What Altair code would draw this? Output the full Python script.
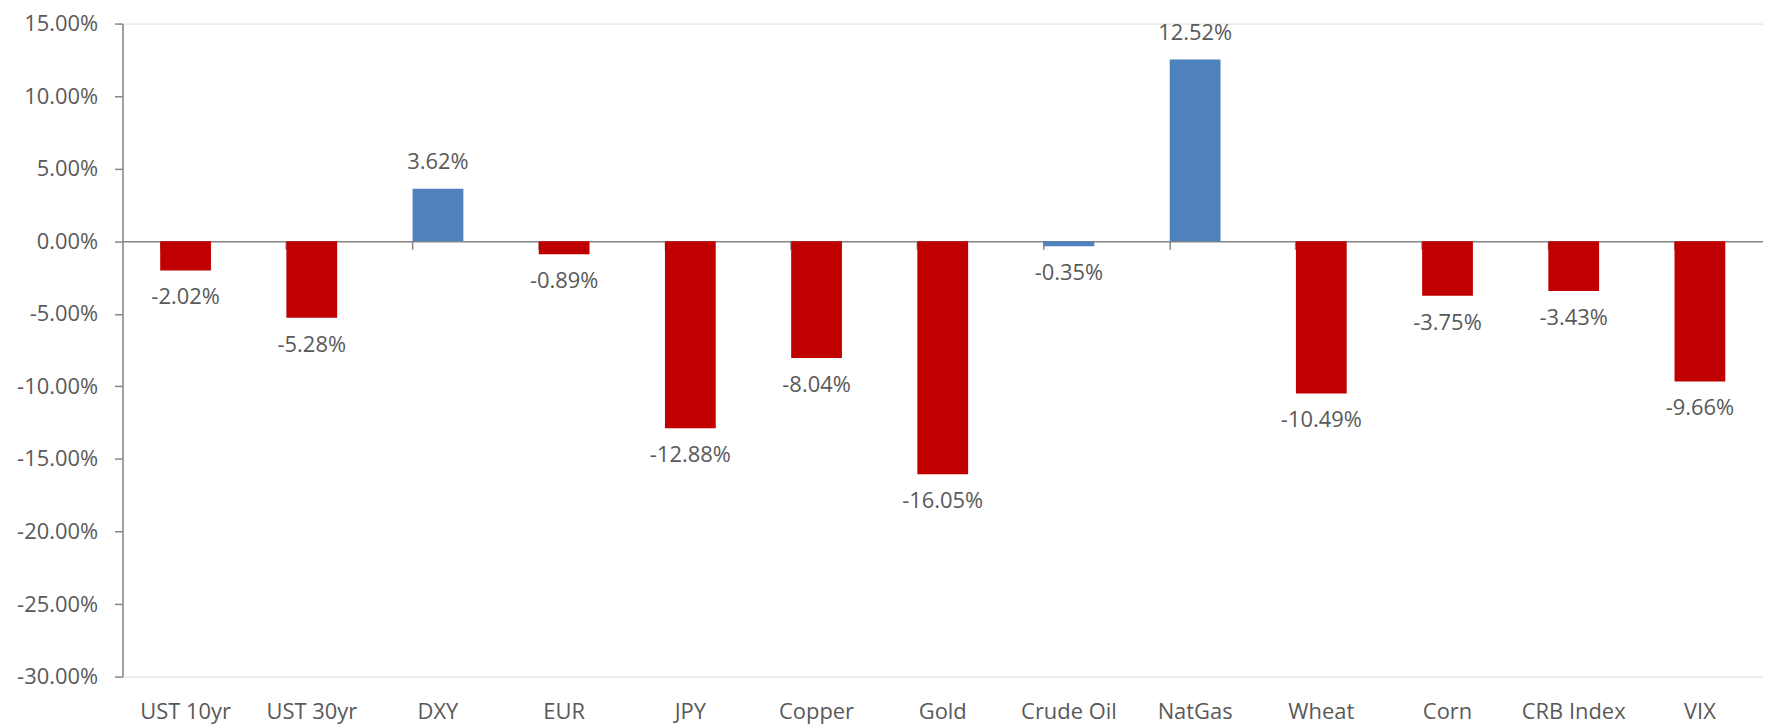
import altair as alt
import pandas as pd

categories = ["UST 10yr", "UST 30yr", "DXY", "EUR", "JPY", "Copper", "Gold",
              "Crude Oil", "NatGas", "Wheat", "Corn", "CRB Index", "VIX"]
values = [-0.0202, -0.0528, 0.0362, -0.0089, -0.1288, -0.0804, -0.1605,
          -0.0035, 0.1252, -0.1049, -0.0375, -0.0343, -0.0966]
bar_colors = ["#C00000", "#C00000", "#4F81BD", "#C00000", "#C00000", "#C00000", "#C00000",
              "#4F81BD", "#4F81BD", "#C00000", "#C00000", "#C00000", "#C00000"]
y_ticks = [-0.30, -0.25, -0.20, -0.15, -0.10, -0.05, 0.0, 0.05, 0.10, 0.15]

df = pd.DataFrame({"cat": categories, "val": values, "color": bar_colors})

W, H = 1648, 656
ymin, ymax = min(y_ticks), max(y_ticks)
zero_offset = -H * (0 - ymin) / (ymax - ymin)

FONT = "Open Sans"
GRAY = "#868686"
TXT = "#595959"
MINUS_FIX = "replace(datum.label, '\u2212', '-')"

xscale = alt.Scale(paddingInner=0.6, paddingOuter=0.3)
yscale = alt.Scale(domain=[ymin, ymax], nice=False, zero=False)

base = alt.Chart(df)

bars = base.mark_bar(size=51).encode(
    x=alt.X("cat:N", sort=categories, scale=xscale, title=None,
            axis=alt.Axis(orient="bottom", domain=False, ticks=False, labelAngle=0,
                          labelPadding=25, labelFont=FONT, labelFontSize=22,
                          labelColor=TXT, labelBaseline="top")),
    y=alt.Y("val:Q", scale=yscale, title=None,
            axis=alt.Axis(values=y_ticks, format=".2%", labelExpr=MINUS_FIX, grid=False,
                          domainColor=GRAY, domainWidth=1.5, tickColor=GRAY, tickWidth=1.5,
                          tickSize=8, labelPadding=17, labelFont=FONT, labelFontSize=22,
                          labelColor=TXT)),
    color=alt.Color("color:N", scale=None, legend=None),
)

def text_layer(positive, with_axis):
    flt = "datum.val >= 0" if positive else "datum.val < 0"
    if with_axis:
        xaxis = alt.Axis(orient="bottom", offset=zero_offset, labels=False, domain=True,
                         domainColor=GRAY, domainWidth=1.5, ticks=True, tickColor=GRAY,
                         tickWidth=1.5, tickSize=8, bandPosition=0)
    else:
        xaxis = None
    return base.transform_filter(flt).transform_calculate(
        lbl="replace(format(datum.val, '.2%'), '\u2212', '-')"
    ).mark_text(font=FONT, fontSize=22, color=TXT, baseline="middle",
                dy=-27 if positive else 27).encode(
        x=alt.X("cat:N", sort=categories, scale=xscale, title=None, axis=xaxis),
        y=alt.Y("val:Q", scale=yscale),
        text="lbl:N",
    )

chart = alt.layer(bars, text_layer(False, True), text_layer(True, False)).resolve_axis(
    x="independent").properties(
    width=W, height=H,
    autosize=alt.AutoSizeParams(type="none"),
    padding={"left": 115, "top": 14, "right": 0, "bottom": 50},
).configure_view(stroke=None).configure(background="white")

chart.save("out.html", embed_options={"renderer": "svg", "actions": False})
